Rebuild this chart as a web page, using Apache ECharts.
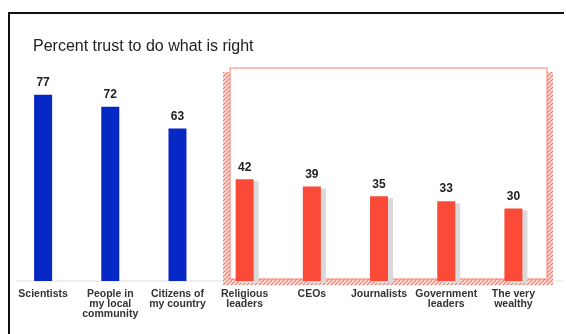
<!DOCTYPE html>
<html>
<head>
<meta charset="utf-8">
<script src="https://cdn.jsdelivr.net/npm/echarts@6/dist/echarts.min.js"></script>
<style>
html,body{margin:0;padding:0;background:#fff;}
#chart{width:566px;height:334px;}
</style>
</head>
<body>
<div id="chart"></div>
<script>
const categories = ["Scientists", "People in\nmy local\ncommunity", "Citizens of\nmy country", "Religious\nleaders", "CEOs", "Journalists", "Government\nleaders", "The very\nwealthy"];
const trustedValues = [77, 72, 63, null, null, null, null, null];
const distrustedValues = [null, null, null, 42, 39, 35, 33, 30];
const titleText = "Percent trust to do what is right";

function hatchPattern() {
  const c = document.createElement('canvas');
  c.width = 4; c.height = 4;
  const ctx = c.getContext('2d');
  ctx.fillStyle = '#fde6e2';
  ctx.fillRect(0, 0, 4, 4);
  ctx.strokeStyle = '#fb7363';
  ctx.lineWidth = 1.2;
  ctx.beginPath();
  ctx.moveTo(0, 4); ctx.lineTo(4, 0);
  ctx.moveTo(-1, 1); ctx.lineTo(1, -1);
  ctx.moveTo(3, 5); ctx.lineTo(5, 3);
  ctx.stroke();
  return c;
}
const pat = { image: hatchPattern(), repeat: 'repeat' };

const chart = echarts.init(document.getElementById('chart'), null, { renderer: 'canvas' });
const labelStyle = {
  show: true, position: 'top', distance: 6,
  fontFamily: 'Liberation Sans', fontWeight: 'bold', fontSize: 12, color: '#222'
};
chart.setOption({
  animation: false,
  title: {
    text: titleText, left: 33, top: 39, padding: 0,
    textStyle: { fontFamily: 'Liberation Sans', fontWeight: 'normal', fontSize: 16, color: '#222' }
  },
  grid: { left: 9.5, right: 19, top: 39, bottom: 53, containLabel: false },
  xAxis: {
    type: 'category', data: categories,
    axisLine: { show: false }, axisTick: { show: false },
    axisLabel: {
      interval: 0, margin: 8, fontFamily: 'Liberation Sans', fontWeight: 'bold',
      fontSize: 10.5, lineHeight: 10, color: '#333'
    }
  },
  yAxis: { type: 'value', min: 0, max: 100, show: false, splitLine: { show: false } },
  graphic: [
    { type: 'rect', shape: { x: 8, y: 12, width: 556, height: 2 }, style: { fill: '#111' }, z: 100 },
    { type: 'rect', shape: { x: 8, y: 12, width: 2, height: 330 }, style: { fill: '#111' }, z: 100 },
    { type: 'rect', shape: { x: 16, y: 280.5, width: 547, height: 1 }, style: { fill: '#e2e2e2' }, z: 0 },
    { type: 'rect', shape: { x: 223, y: 72, width: 7, height: 213 }, style: { fill: pat }, z: 1 },
    { type: 'rect', shape: { x: 547, y: 72, width: 6, height: 213 }, style: { fill: pat }, z: 1 },
    { type: 'rect', shape: { x: 223, y: 279, width: 330, height: 6 }, style: { fill: pat }, z: 1 },
    { type: 'rect', shape: { x: 230, y: 68, width: 317, height: 211 }, style: { fill: 'none', stroke: '#fb7a6c', lineWidth: 1 }, z: 1 }
  ],
  series: [
    {
      type: 'bar', data: trustedValues, barWidth: 18, barGap: '-100%',
      itemStyle: { color: '#0628c4' }, label: labelStyle, z: 5
    },
    {
      type: 'bar', data: distrustedValues, barWidth: 18,
      itemStyle: { color: '#fb4a37', shadowColor: '#d9d9d9', shadowOffsetX: 5, shadowOffsetY: 2, shadowBlur: 0 },
      label: labelStyle, z: 5
    }
  ]
});
</script>
</body>
</html>
